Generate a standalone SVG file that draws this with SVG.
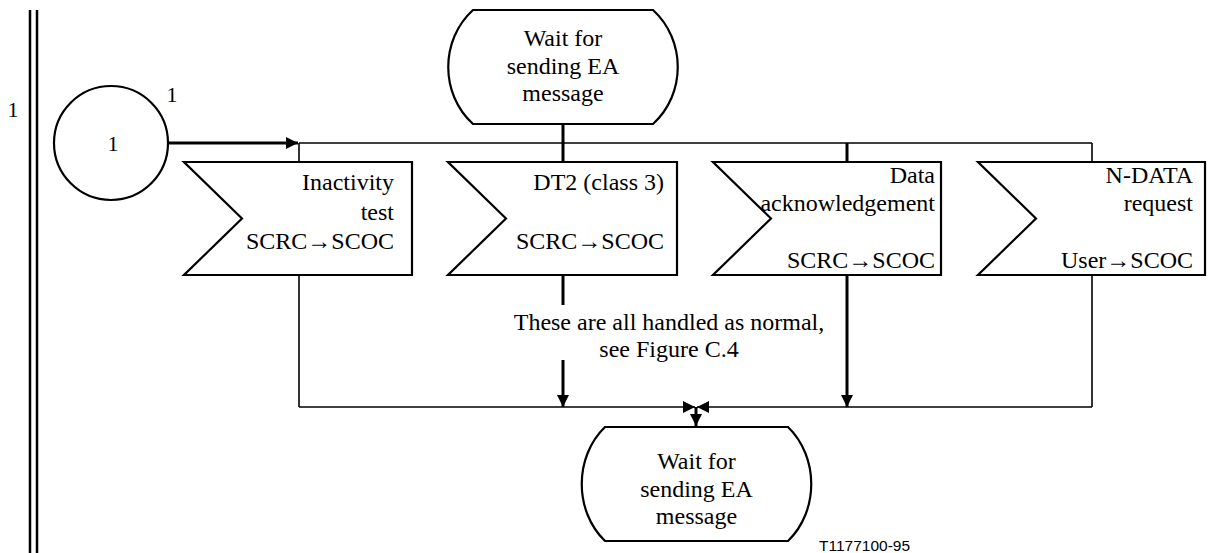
<svg xmlns="http://www.w3.org/2000/svg" width="1209" height="553" viewBox="0 0 1209 553">
<style>
.t{font-family:"Liberation Serif","Times New Roman",serif;font-size:24px;fill:#000}
.n{font-family:"Liberation Serif","Times New Roman",serif;font-size:22px;fill:#000;text-anchor:middle}
.e{text-anchor:end}
.m{text-anchor:middle}
.s{fill:#fff;stroke:#000;stroke-width:2.2}
.thin{fill:none;stroke:#000;stroke-width:1.6}
.thick{fill:none;stroke:#000;stroke-width:3}
.lbl{font-family:"Liberation Sans",Arial,sans-serif;font-size:15.5px;fill:#000}
</style>
<defs>
<marker id="ah" viewBox="0 0 12 12" refX="12" refY="6" markerWidth="12" markerHeight="12" markerUnits="userSpaceOnUse" orient="auto">
<path d="M0,0 L12,6 L0,12 Z" fill="#000"/>
</marker>
</defs>
<rect width="1209" height="553" fill="#fff"/>
<g id="border">
<line x1="30" y1="10" x2="30" y2="553" stroke="#000" stroke-width="2.5"/>
<line x1="37" y1="10" x2="37" y2="553" stroke="#000" stroke-width="2.5"/>
<text class="n" x="13" y="117">1</text>
</g>
<g id="connectors">
<path class="thick" d="M168,143 H298" marker-end="url(#ah)"/>
<path class="thin" d="M299,143 H1092"/>
<path class="thin" d="M299,143 V162"/>
<path class="thick" d="M563,124 V162"/>
<path class="thick" d="M847,143 V162"/>
<path class="thin" d="M1092,143 V162"/>
<path class="thin" d="M299,275 V407"/>
<path class="thick" d="M563,275 V305"/>
<path class="thick" d="M563,360 V407" marker-end="url(#ah)"/>
<path class="thick" d="M847,275 V407" marker-end="url(#ah)"/>
<path class="thin" d="M1092,275 V407"/>
<path class="thin" d="M299,407 H695" marker-end="url(#ah)"/>
<path class="thin" d="M1092,407 H697" marker-end="url(#ah)"/>
<path class="thick" d="M696,407 V426" marker-end="url(#ah)"/>
</g>
<g id="connector1">
<circle class="s" cx="111" cy="143" r="57"/>
<text class="n" x="113" y="151">1</text>
<text class="n" x="172" y="102">1</text>
</g>
<g id="state-top">
<path class="s" d="M473,10 H653 C686,40 686,94 653,124 H473 C440,94 440,40 473,10 Z"/>
<text class="t m" x="563" y="46">Wait for</text>
<text class="t m" x="563" y="74">sending EA</text>
<text class="t m" x="563" y="101">message</text>
</g>
<g id="signal-inactivity">
<path class="s" d="M184,162 H412 V275 H184 L242,218.5 Z"/>
<text class="t e" x="394" y="190">Inactivity</text>
<text class="t e" x="394" y="220">test</text>
<text class="t e" x="394" y="249">SCRC→SCOC</text>
</g>
<g id="signal-dt2">
<path class="s" d="M448,162 H677 V275 H448 L506,218.5 Z"/>
<text class="t e" x="664" y="190">DT2 (class 3)</text>
<text class="t e" x="664" y="249">SCRC→SCOC</text>
</g>
<g id="signal-data-ack">
<path class="s" d="M713,162 H941 V275 H713 L771,218.5 Z"/>
<text class="t e" x="935" y="183">Data</text>
<text class="t e" x="935" y="211">acknowledgement</text>
<text class="t e" x="935" y="268">SCRC→SCOC</text>
</g>
<g id="signal-ndata">
<path class="s" d="M978,162 H1205 V275 H978 L1036,218.5 Z"/>
<text class="t e" x="1193" y="183">N-DATA</text>
<text class="t e" x="1193" y="211">request</text>
<text class="t e" x="1193" y="268">User→SCOC</text>
</g>
<g id="note">
<text class="t m" x="669" y="330">These are all handled as normal,</text>
<text class="t m" x="669" y="357">see Figure C.4</text>
</g>
<g id="state-bottom">
<path class="s" d="M605,427 H788 C819,457 819,511 788,541 H605 C574,511 574,457 605,427 Z"/>
<text class="t m" x="696.5" y="469">Wait for</text>
<text class="t m" x="696.5" y="497">sending EA</text>
<text class="t m" x="696.5" y="524">message</text>
</g>
<text class="lbl" x="819" y="551">T1177100-95</text>
</svg>
